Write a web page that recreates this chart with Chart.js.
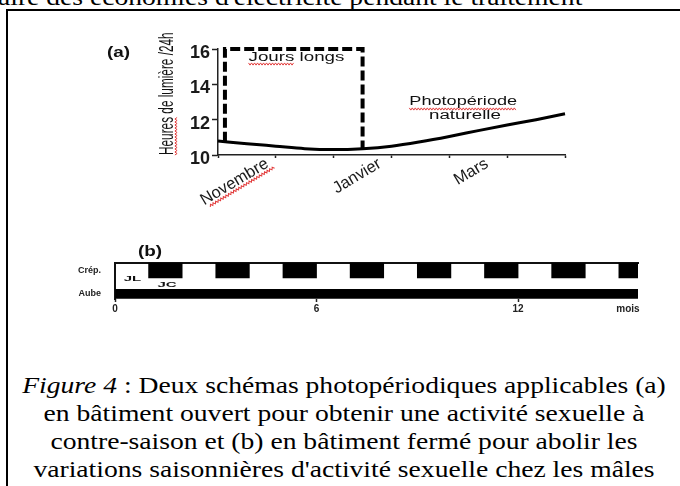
<!DOCTYPE html>
<html lang="fr">
<head>
<meta charset="utf-8">
<script src="https://cdn.jsdelivr.net/npm/chart.js@4.4.1/dist/chart.umd.min.js"></script>
<style>
  html, body { margin: 0; padding: 0; background: #fff; }
  body { width: 680px; height: 486px; position: relative; overflow: hidden;
         font-family: 'Liberation Serif', 'Times New Roman', serif; color: #000; }
  #head { position: absolute; left: -2px; top: -17px; font-size: 24px; line-height: 28px;
          white-space: nowrap; transform: scaleX(1.15); transform-origin: 0 0; }
  #frame { position: absolute; left: 6px; top: 9px; width: 700px; height: 500px;
           border: 2px solid #000; box-sizing: border-box; }
  #wrapA { position: absolute; left: 0; top: 0; }
  #wrapB { position: absolute; left: 0; top: 230px; }
  #caption { position: absolute; left: 8px; width: 672px; top: 371px; text-align: center;
             font-size: 24px; line-height: 28px; transform: scaleX(1.15); transform-origin: 336px 0; }
</style>
</head>
<body>
<div id="head">aire des économies d'électricité pendant le traitement</div>
<div id="frame"></div>
<div id="wrapA"><canvas id="chartA" width="680" height="220"></canvas></div>
<div id="wrapB"><canvas id="chartB" width="680" height="100"></canvas></div>
<div id="caption"><i>Figure 4</i> : Deux schémas photopériodiques applicables (a)<br>en bâtiment ouvert pour obtenir une activité sexuelle à<br>contre-saison et (b) en bâtiment fermé pour abolir les<br>variations saisonnières d'activité sexuelle chez les mâles</div>

<script>
const SANS = "'Liberation Sans', Arial, Helvetica, sans-serif";

// (a) heures de lumière par 24h, x en mois depuis mi-octobre
const monthTicks = [0, 1, 2, 3, 4, 5, 6];
const monthLabels = ['Novembre', 'Janvier', 'Mars'];
const monthLabelAt = [0.85, 2.8, 4.65];
const hourTicks = [10, 12, 14, 16];
const naturalMonth = [0, 0.5, 1, 1.5, 2, 2.5, 3, 3.5, 4, 4.5, 5, 5.5, 6];
const naturalHours = [10.79, 10.64, 10.5, 10.36, 10.31, 10.36, 10.5, 10.75, 11.05, 11.38, 11.7, 12.0, 12.33];
const longDayMonth = [0.12, 0.12, 2.5, 2.5];
const longDayHours = [10.75, 16, 16, 10.38];

// (b) alternance jours longs / jours courts
const rowNames = ['Aube', 'Crép.'];
const shortDayBlocks = [[1, 2], [3, 4], [5, 6], [7, 8], [9, 10], [11, 12], [13, 14], [15, 16]];
const monthsB = [0, 6, 12];
const unitB = 'mois';
const unitBAt = 15.27;

const LABEL_ROT = 31;

function stretchText(ctx, txt, x, y, o) {
  ctx.save();
  ctx.font = o.font;
  ctx.fillStyle = o.color || '#111';
  ctx.textBaseline = 'alphabetic';
  ctx.textAlign = o.align || 'center';
  ctx.translate(x, y);
  if (o.rotate) ctx.rotate(o.rotate);
  ctx.scale(o.sx || 1, 1);
  ctx.fillText(txt, 0, 0);
  ctx.restore();
}

function textWidth(ctx, txt, font, sx) {
  ctx.save();
  ctx.font = font;
  const w = ctx.measureText(txt).width * (sx || 1);
  ctx.restore();
  return w;
}

// petit soulignement ondulé rouge (correcteur)
function squiggle(ctx, x, y, len, rot) {
  ctx.save();
  ctx.translate(x, y);
  if (rot) ctx.rotate(rot);
  ctx.strokeStyle = '#e23b3b';
  ctx.lineWidth = 1;
  ctx.beginPath();
  for (let i = 0; i <= len; i += 1.5) {
    const dy = (Math.round(i / 1.5) % 2) ? 1.1 : -1.1;
    if (i === 0) ctx.moveTo(i, dy); else ctx.lineTo(i, dy);
  }
  ctx.stroke();
  ctx.restore();
}

const notesA = {
  id: 'notesA',
  afterDraw(chart) {
    const { ctx, chartArea: a, scales: { x, y } } = chart;
    const note = '12.5px ' + SANS;

    stretchText(ctx, '(a)', a.left - 111, a.top + 8, { font: 'bold 14px ' + SANS, sx: 1.35, align: 'left' });

    // titre de l'axe y, très condensé
    const tFont = '20px ' + SANS;
    stretchText(ctx, 'Heures de lumière /24h', a.left - 45, a.bottom, { font: tFont, sx: 0.59, align: 'left', rotate: -Math.PI / 2 });
    squiggle(ctx, a.left - 42, a.bottom, textWidth(ctx, 'Heures', tFont, 0.59), -Math.PI / 2);

    // soulignement sous « Novembre », le long de l'étiquette inclinée
    const r = LABEL_ROT * Math.PI / 180;
    const tx = x.getPixelForValue(monthLabelAt[0]), ty = a.bottom - 1;
    const sx0 = tx + 15 * Math.sin(r) - 1 * Math.cos(r);
    const sy0 = ty + 15 * Math.cos(r) + 1 * Math.sin(r);
    squiggle(ctx, sx0, sy0, textWidth(ctx, 'Novembre', '16.5px ' + SANS), Math.PI - r);

    const jx = x.getPixelForValue(1.357), jy = y.getPixelForValue(15.32);
    stretchText(ctx, 'Jours longs', jx, jy, { font: note, sx: 1.5 });
    const jw = textWidth(ctx, 'Jours longs', note, 1.5);
    squiggle(ctx, jx - jw / 2, jy + 3, textWidth(ctx, 'Jours', note, 1.5));

    const px = x.getPixelForValue(4.24), py = y.getPixelForValue(12.83);
    stretchText(ctx, 'Photopériode', px, py, { font: note, sx: 1.45 });
    const pw = textWidth(ctx, 'Photopériode', note, 1.45);
    squiggle(ctx, px - pw / 2, py + 4, pw);
    stretchText(ctx, 'naturelle', x.getPixelForValue(4.27), y.getPixelForValue(12.02), { font: note, sx: 1.5 });
  }
};

new Chart(document.getElementById('chartA'), {
  type: 'line',
  data: {
    datasets: [{
      label: 'Photopériode naturelle',
      data: naturalMonth.map((m, i) => ({ x: m, y: naturalHours[i] })),
      borderColor: '#000',
      borderWidth: 3,
      cubicInterpolationMode: 'monotone',
      pointRadius: 0,
      clip: false
    }, {
      label: 'Jours longs',
      data: longDayMonth.map((m, i) => ({ x: m, y: longDayHours[i] })),
      borderColor: '#000',
      borderWidth: 4,
      borderDash: [10, 4],
      borderCapStyle: 'butt',
      tension: 0,
      pointRadius: 0,
      clip: false
    }]
  },
  options: {
    responsive: false,
    animation: false,
    layout: { padding: { left: 158, top: 49, right: 115, bottom: 5 } },
    plugins: { legend: { display: false }, tooltip: { enabled: false } },
    scales: {
      x: {
        type: 'linear',
        min: 0,
        max: 6,
        afterFit: (s) => { s.height = 60; },
        afterBuildTicks: (s) => {
          s.ticks = monthTicks.concat(monthLabelAt).sort((p, q) => p - q).map(v => ({ value: v }));
        },
        border: { color: '#222', width: 1.5 },
        grid: {
          drawOnChartArea: false,
          tickLength: 3,
          tickWidth: 1.5,
          tickColor: (c) => monthLabelAt.includes(c.tick.value) ? 'rgba(0,0,0,0)' : '#222'
        },
        ticks: {
          autoSkip: false,
          minRotation: LABEL_ROT,
          maxRotation: LABEL_ROT,
          padding: -4,
          color: '#1a1a1a',
          font: { family: SANS, size: 16.5 },
          callback: (v) => {
            const k = monthLabelAt.indexOf(v);
            return k >= 0 ? monthLabels[k] : '';
          }
        }
      },
      y: {
        min: 10,
        max: 16,
        afterFit: (s) => { s.width = 60; },
        border: { color: '#222', width: 1.5 },
        grid: { drawOnChartArea: false, tickLength: 6, tickWidth: 1.5, tickColor: '#222' },
        ticks: {
          stepSize: 1,
          padding: 2,
          labelOffset: 4,
          color: '#1a1a1a',
          font: { family: SANS, size: 18, weight: 'bold' },
          callback: (v) => hourTicks.includes(v) ? String(v) : ''
        }
      }
    }
  },
  plugins: [notesA]
});

const notesB = {
  id: 'notesB',
  afterDraw(chart) {
    const { ctx, chartArea: a, scales: { x, y } } = chart;
    stretchText(ctx, '(b)', a.left + 23, a.top - 7, { font: 'bold 14px ' + SANS, sx: 1.35, align: 'left' });
    const row = y.getPixelForValue(1);
    stretchText(ctx, 'JL', x.getPixelForValue(0.52), row + 11, { font: 'bold 7.5px ' + SANS, sx: 2 });
    stretchText(ctx, 'JC', x.getPixelForValue(1.55), row + 17, { font: 'bold 7.5px ' + SANS, sx: 2 });
  }
};

new Chart(document.getElementById('chartB'), {
  type: 'bar',
  data: {
    datasets: [{
      label: 'JC',
      data: shortDayBlocks.map(b => ({ x: b, y: 1 })),
      backgroundColor: '#000',
      barThickness: 15.3,
      grouped: false
    }, {
      label: 'Aube',
      data: [{ x: [0, 16], y: 0 }],
      backgroundColor: '#000',
      barThickness: 9,
      grouped: false
    }]
  },
  options: {
    indexAxis: 'y',
    responsive: false,
    animation: false,
    layout: { padding: { left: 75, top: 32.7, right: 42, bottom: 11 } },
    plugins: { legend: { display: false }, tooltip: { enabled: false } },
    scales: {
      x: {
        type: 'linear',
        min: 0,
        max: 15.57,
        afterFit: (s) => { s.height = 20; },
        afterBuildTicks: (s) => {
          s.ticks = monthsB.concat([unitBAt]).map(v => ({ value: v }));
        },
        border: { display: false },
        grid: {
          drawOnChartArea: false,
          tickLength: 3,
          tickWidth: 1.5,
          tickColor: (c) => c.tick.value === unitBAt ? 'rgba(0,0,0,0)' : '#222'
        },
        ticks: {
          autoSkip: false,
          maxRotation: 0,
          padding: 1,
          color: '#222',
          font: { family: SANS, size: 10, weight: 'bold' },
          callback: (v) => v === unitBAt ? unitB : String(v)
        }
      },
      // ligne supérieure du cadre « Crép. »
      xTop: {
        type: 'linear',
        position: 'top',
        min: 0,
        max: 15.57,
        afterFit: (s) => { s.height = 0; },
        border: { display: true, color: '#111', width: 2 },
        grid: { display: false },
        ticks: { display: false }
      },
      y: {
        type: 'linear',
        min: -0.22,
        max: 1.32,
        offset: false,
        afterFit: (s) => { s.width = 40; },
        afterBuildTicks: (s) => { s.ticks = rowNames.map((n, i) => ({ value: i })); },
        border: { display: true, color: '#111', width: 2 },
        grid: { display: false },
        ticks: {
          padding: 6,
          color: '#222',
          font: { family: SANS, size: 9, weight: 'bold' },
          callback: (v) => rowNames[v]
        }
      }
    }
  },
  plugins: [notesB]
});
</script>
</body>
</html>
